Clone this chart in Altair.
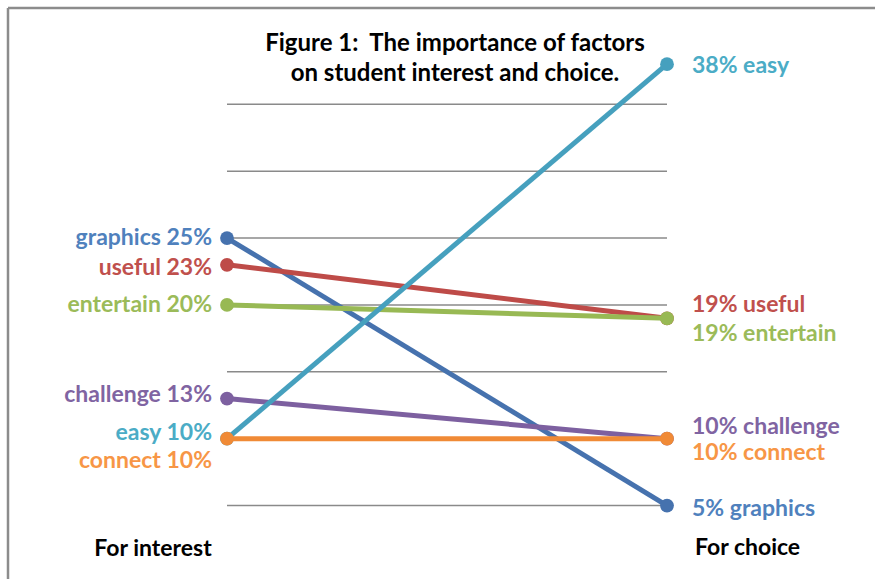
import altair as alt
import pandas as pd

# ---- data ----
factors = ["graphics", "useful", "entertain", "challenge", "easy", "connect"]
for_interest = [25, 23, 20, 13, 10, 10]
for_choice = [5, 19, 19, 10, 38, 10]
stages = ["For interest", "For choice"]
gridlines = [5, 10, 15, 20, 25, 30, 35]
title_lines = ["Figure 1:\u00a0 The importance of factors", "on student interest and choice."]

# ---- styles ----
line_colors = ["#4672AE", "#BE4B48", "#98B954", "#7D60A0", "#46A0BE", "#F08A36"]
text_colors = ["#4F81BD", "#C0504D", "#9BBB59", "#8064A2", "#4BACC6", "#F79646"]
# label nudges in pixels (to avoid collisions, as in the reference)
left_dy = {"graphics": 0, "useful": 3, "entertain": 0, "challenge": -4, "easy": -6, "connect": 22}
right_dy = {"graphics": 3, "useful": -13, "entertain": 16, "challenge": -12, "easy": 2, "connect": 14}
FONT = "Lato"
FS = 23

rows = []
for f, a, b in zip(factors, for_interest, for_choice):
    rows.append({"factor": f, "stage": stages[0], "pos": 0, "value": a,
                 "label": f"{f} {a}%"})
    rows.append({"factor": f, "stage": stages[1], "pos": 1, "value": b,
                 "label": f"{b}% {f}"})
df = pd.DataFrame(rows)

W, H = 875, 579
xscale = alt.Scale(domain=[0, 1], range=[227, 667])
yscale = alt.Scale(domain=[0, 40], range=[572.4, 37.4])

base = alt.Chart(df)

grid = alt.Chart(pd.DataFrame({"g": gridlines})).mark_rule(
    color="#8a8a8a", strokeWidth=1.5
).encode(
    y=alt.Y("g:Q", scale=yscale, axis=None),
    x=alt.value(227), x2=alt.value(667),
)

border_top = alt.Chart(pd.DataFrame({"a": [0]})).mark_rule(
    color="#8c8c8c", strokeWidth=2.5
).encode(x=alt.value(8), x2=alt.value(W), y=alt.value(8))
border_left = alt.Chart(pd.DataFrame({"a": [0]})).mark_rule(
    color="#8c8c8c", strokeWidth=2.5
).encode(x=alt.value(8), y=alt.value(8), y2=alt.value(H))

layers = [grid, border_top, border_left]
for f, lc in zip(factors, line_colors):
    sub = base.transform_filter(alt.datum.factor == f)
    enc = dict(x=alt.X("pos:Q", scale=xscale, axis=None),
               y=alt.Y("value:Q", scale=yscale, axis=None))
    layers.append(sub.mark_line(color=lc, strokeWidth=5).encode(**enc))
    layers.append(sub.mark_circle(color=lc, size=190, opacity=1).encode(**enc))

for f, tc in zip(factors, text_colors):
    sub = base.transform_filter(alt.datum.factor == f)
    layers.append(
        sub.transform_filter(alt.datum.pos == 0).mark_text(
            align="right", baseline="middle", dx=-15, dy=left_dy[f],
            font=FONT, fontSize=FS, fontWeight="bold", color=tc
        ).encode(x=alt.X("pos:Q", scale=xscale, axis=None),
                 y=alt.Y("value:Q", scale=yscale, axis=None),
                 text="label:N")
    )
    layers.append(
        sub.transform_filter(alt.datum.pos == 1).mark_text(
            align="left", baseline="middle", dx=25, dy=right_dy[f],
            font=FONT, fontSize=FS, fontWeight="bold", color=tc
        ).encode(x=alt.X("pos:Q", scale=xscale, axis=None),
                 y=alt.Y("value:Q", scale=yscale, axis=None),
                 text="label:N")
    )

stage_df = pd.DataFrame({"stage": stages, "pos": [0, 1]})
stage_left = alt.Chart(stage_df).transform_filter(alt.datum.pos == 0).mark_text(
    baseline="middle", align="center", font=FONT, fontSize=FS, fontWeight="bold",
    color="#000000", dx=-74
).encode(
    x=alt.X("pos:Q", scale=xscale, axis=None),
    y=alt.value(549),
    text="stage:N",
)
stage_right = alt.Chart(stage_df).transform_filter(alt.datum.pos == 1).mark_text(
    baseline="middle", align="left", font=FONT, fontSize=FS, fontWeight="bold",
    color="#000000", dx=28
).encode(
    x=alt.X("pos:Q", scale=xscale, axis=None),
    y=alt.value(548),
    text="stage:N",
)
layers += [stage_left, stage_right]

title_df = pd.DataFrame({"t": title_lines, "i": [0, 1]})
title = alt.Chart(title_df).mark_text(
    align="center", baseline="middle", font=FONT, fontSize=24, fontWeight="bold",
    color="#000000"
).encode(
    x=alt.value(455),
    y=alt.Y("i:Q", scale=alt.Scale(domain=[0, 1], range=[44, 74]), axis=None),
    text="t:N",
)
layers.append(title)

chart = alt.layer(*layers).properties(
    width=W, height=H, autosize=alt.AutoSizeParams(type="none"), padding=0,
    background="white"
).configure_view(stroke=None).resolve_scale(y="independent")

chart.save("out.html", embed_options={"renderer": "svg", "actions": False})
